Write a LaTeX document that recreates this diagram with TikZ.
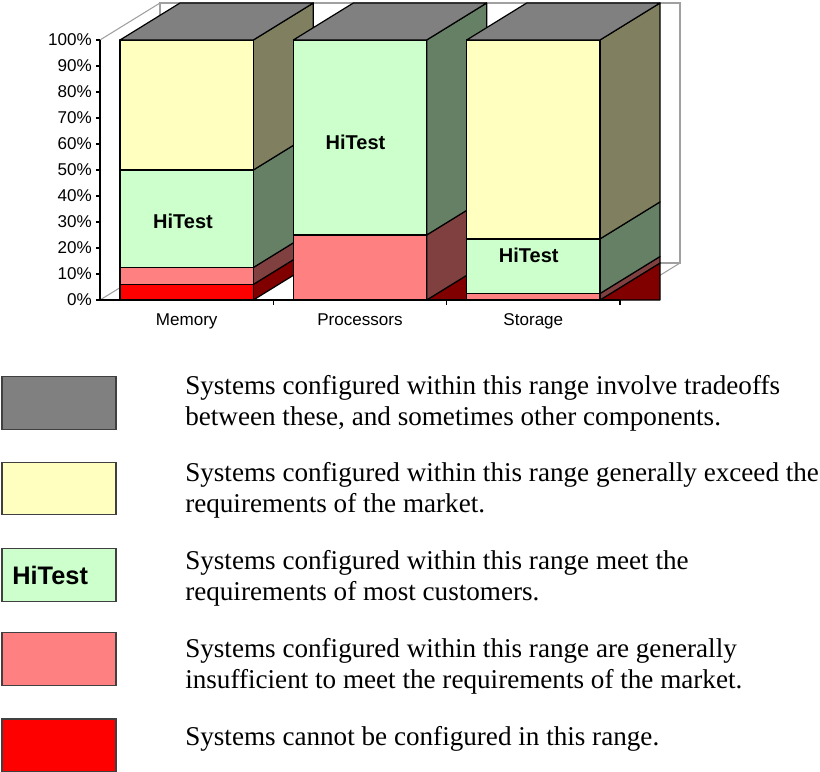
\documentclass[tikz,border=0pt]{standalone}
\usepackage{fontspec}
\setmainfont{Liberation Serif}
\newfontfamily\chartfont{Liberation Sans}
\usetikzlibrary{positioning}
\definecolor{Cfg_Gray}{HTML}{808080}
\definecolor{Cfg_Yellow}{HTML}{FFFFC0}
\definecolor{Cfg_Green}{HTML}{CCFFCC}
\definecolor{Cfg_Pink}{HTML}{FF8080}
\definecolor{Cfg_Red}{HTML}{FF0000}
\definecolor{Wall_Gray}{HTML}{A0A0A0}

\begin{document}
\begin{tikzpicture}[x=0.75pt, y=-0.75pt,
    face/.style={draw=black, line width=0.9pt, line join=round},
    axislbl/.style={font=\chartfont\fontsize{12.8}{14}\selectfont, inner sep=0pt},
    barlbl/.style={font=\chartfont\bfseries\fontsize{15}{17}\selectfont, inner sep=0pt},
    legbox/.style={draw=black!75, line width=0.8pt, minimum width=85.5pt, minimum height=39.4pt, inner sep=0pt},
    legtext/.style={anchor=west, align=left, inner sep=0pt, font=\fontsize{20.35}{23.3}\selectfont}]
    \useasboundingbox (0,0) rectangle (820,771);
    \draw[Wall_Gray, line width=0.8pt] (160,3) rectangle (680,263);
    \draw[Wall_Gray, line width=0.8pt] (100,40) -- (160,3) (100,300) -- (160,263) (620,300) -- (680,263);
    \foreach \p in {0,10,...,100} {
        \draw[line width=0.9pt] (96,{300-2.6*\p}) -- (100,{300-2.6*\p});
        \node[axislbl, anchor=east] (ylbl\p) at (92,{300-2.6*\p}) {\p\%};
    }
    \foreach \r in {426.67,600}
        \filldraw[face, fill=Cfg_Red!50!black] (\r,300) -- ({\r+60},263) -- ({\r+60},300) -- cycle;
    \foreach \L/\a/\b/\c in {120/0/6/Cfg_Red, 120/6/12.5/Cfg_Pink, 120/12.5/50/Cfg_Green, 120/50/100/Cfg_Yellow,
        293.33/0/25/Cfg_Pink, 293.33/25/100/Cfg_Green,
        466.67/0/2.5/Cfg_Pink, 466.67/2.5/23.5/Cfg_Green, 466.67/23.5/100/Cfg_Yellow} {
        \filldraw[face, fill=\c!50!black] ({\L+133.33},{300-2.6*\a}) -- ++(60,-37) -- ({\L+193.33},{263-2.6*\b}) -- ({\L+133.33},{300-2.6*\b}) -- cycle;
        \filldraw[face, fill=\c] (\L,{300-2.6*\a}) rectangle ({\L+133.33},{300-2.6*\b});
    }
    \foreach \L in {120,293.33,466.67}
        \filldraw[face, fill=Cfg_Gray] (\L,40) -- ++(60,-37) -- ++(133.33,0) -- ++(-60,37) -- cycle;
    \draw[line width=0.9pt] (100,40) -- (100,300) -- (620,300);
    \foreach \t in {273.33,446.67,620}
        \draw[line width=0.9pt] (\t,300) -- (\t,305);
    \node[axislbl, anchor=base] (catmem) at (186.67,325) {Memory};
    \node[axislbl, anchor=base] (catproc) at (360,325) {Processors};
    \node[axislbl, anchor=base] (catstor) at (533.33,325) {Storage};
    \node[barlbl] (hitmem) at (183,221) {HiTest};
    \node[barlbl] (hitproc) at (355.5,142) {HiTest};
    \node[barlbl] (hitstor) at (528.8,255) {HiTest};

    \node[legbox, fill=Cfg_Gray] (key1) at (59,403) {};
    \node[legbox, fill=Cfg_Yellow] (key2) at (59,488.5) {};
    \node[legbox, fill=Cfg_Green] (key3) at (59,575) {};
    \node[legbox, fill=Cfg_Pink] (key4) at (59,659) {};
    \node[legbox, fill=Cfg_Red] (key5) at (59,745.25) {};
    \node[font=\chartfont\bfseries\fontsize{19}{21}\selectfont, anchor=west, inner sep=0pt] (keyhi) at ([xshift=8pt]key3.west) {HiTest};
    \node[legtext] (txt1) at (185,403.5) {Systems configured within this range involve tradeoffs\\between these, and sometimes other components.};
    \node[legtext] (txt2) at (185,490) {Systems configured within this range generally exceed the\\requirements of the market.};
    \node[legtext] (txt3) at (185,578) {Systems configured within this range meet the\\requirements of most customers.};
    \node[legtext] (txt4) at (185,666) {Systems configured within this range are generally\\insufficient to meet the requirements of the market.};
    \node[legtext] (txt5) at (185,739) {Systems cannot be configured in this range.};
\end{tikzpicture}
\end{document}
